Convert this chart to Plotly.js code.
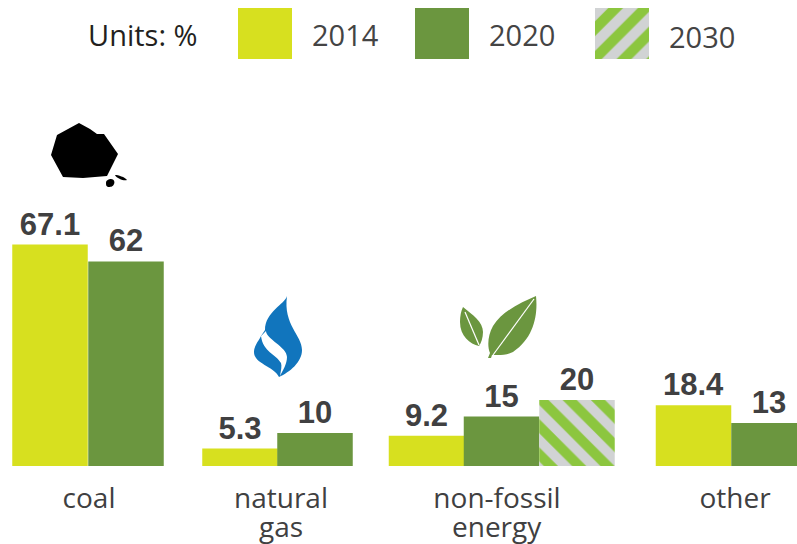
<!DOCTYPE html>
<html><head><meta charset="utf-8">
<script src="https://cdn.plot.ly/plotly-3.0.1.min.js"></script>
<style>html,body{margin:0;padding:0;background:#fff}</style></head>
<body><div id="chart" style="width:797px;height:544px"></div>
<script>
const categories = ['coal', 'natural', 'non-fossil', 'other'];
const categoriesLine2 = ['', 'gas', 'energy', ''];
const years = ['2014', '2020', '2030'];
const values2014 = [67.1, 5.3, 9.2, 18.4];
const values2020 = [62, 10, 15, 13];
const values2030 = [null, null, 20, null];
const colors = {y2014: '#d7e01f', y2020: '#6b963f', hatchFg: '#8cc63f', hatchBg: '#d1d3d4'};

// layout geometry (the x axis runs in page pixels)
const W = 797, H = 544, baseline = 466, pxPerUnit = 3.3, barW = 75.5;
const x2014 = [50, 240, 426.5, 693.5];
const x2020 = [126, 315, 501.5, 769];
const x2030 = [null, null, 577, null];
const labelX = [89, 281, 497, 735];
const swatchX = [265, 442, 622];

const labelFont = {family: 'Liberation Sans, Arial, sans-serif', size: 31, weight: 700, color: '#404041'};
const fmt = v => v == null ? '' : String(v);
const hatch = (s, size) => ({shape: s, bgcolor: colors.hatchBg, fgcolor: colors.hatchFg, size, solidity: 0.5});

const bar = (x, y, marker) => ({
  type: 'bar', x, y, width: barW, marker: Object.assign({line: {width: 0}}, marker),
  text: y.map(fmt), textposition: 'outside', textfont: labelFont, cliponaxis: false,
  showlegend: false, hoverinfo: 'skip', xaxis: 'x', yaxis: 'y'
});
const swatch = (i, marker) => ({
  type: 'bar', x: [swatchX[i]], y: [51], base: [8], width: 54,
  marker: Object.assign({line: {width: 0}}, marker),
  showlegend: false, hoverinfo: 'skip', xaxis: 'x', yaxis: 'y2'
});

const traces = [
  bar(x2014, values2014, {color: colors.y2014}),
  bar(x2020, values2020, {color: colors.y2020}),
  bar(x2030, values2030, {color: colors.hatchBg, pattern: hatch('\\', 20)}),
  swatch(0, {color: colors.y2014}),
  swatch(1, {color: colors.y2020}),
  swatch(2, {color: colors.hatchBg, pattern: hatch('/', 21)})
];

const icon = (path, fill) => ({type: 'path', xref: 'x', yref: 'y2', path, fillcolor: fill, line: {width: 0}, layer: 'above'});
const rib = (path, w) => ({type: 'path', xref: 'x', yref: 'y2', path, line: {color: '#fff', width: w}, layer: 'above'});
const shapes = [
  // coal
  icon('M79,123 L90,129 L97,134 L104,134 L118,154 L107,176 L83,178 L63,177 L51,155 L57,135 Z', '#000'),
  icon('M106,183 C106,180 109,179 111,179 C114,179 115,182 114,184 C113,187 110,187 108,187 C106,186 106,185 106,183 Z', '#000'),
  icon('M115,175 C118,175 125,177 127,180 C124,181 117,179 115,175 Z', '#000'),
  // flame
  icon('M287,296 C285,304 265,312 265,330 L261,336 C258,342 254,346 254,352 C254,364 274,366 279,377 C290,372 302,362 302,350 C302,335 283,325 287,296 Z', '#1175bd'),
  icon('M261,336 L266,331 C266,339 287,347 287,357 C287,364 283,370 280,376 C281,370 282,366 281,363 C276,354 263,352 261,336 Z', '#fff'),
  // small leaf
  icon('M463,307 C473,315 483,322 483,332 C483,338 481,343 479,346 C470,344 460,336 460,322 C460,316 461,311 463,307 Z', '#6b963f'),
  rib('M465,312 L479,345', 1.2),
  // large leaf
  icon('M536,296 C538,315 534,338 513,352 C505,356 497,355 492,355 L491,358 L488,358 L490,353 C487,346 488,335 493,326 C502,311 522,302 536,296 Z', '#6b963f'),
  rib('M534,299 L493,355', 1.2)
];

const note = (text, x, y, color) => ({
  text, x, y: (baseline - y) / baseline, xref: 'x', yref: 'paper', xanchor: 'left', yanchor: 'middle', showarrow: false,
  font: {family: 'Open Sans, sans-serif', size: 29, color}
});
const line2 = categoriesLine2.map((t, i) => t ? ({
  text: t, x: labelX[i], y: (baseline - 526) / baseline, xref: 'x', yref: 'paper', xanchor: 'center', yanchor: 'middle', showarrow: false,
  font: {family: 'Open Sans, sans-serif', size: 28, color: '#404041'}
}) : null).filter(Boolean);
const annotations = [
  note('Units: %', 86, 34, '#231f20'),
  note(years[0], 310, 35, '#444'),
  note(years[1], 487, 35, '#444'),
  note(years[2], 667, 36, '#444')
].concat(line2);

const layout = {
  width: W, height: H, margin: {l: 0, r: 0, t: 0, b: H - baseline, pad: 0},
  paper_bgcolor: '#fff', plot_bgcolor: '#fff', barmode: 'overlay', showlegend: false,
  xaxis: {range: [0, W], tickmode: 'array', tickvals: labelX, ticktext: categories,
    showgrid: false, zeroline: false, showline: false, ticks: 'outside', ticklen: 7, tickcolor: 'rgba(0,0,0,0)',
    tickfont: {family: 'Open Sans, sans-serif', size: 28, color: '#404041'}, tickangle: 0},
  yaxis: {range: [0, baseline / pxPerUnit], visible: false, fixedrange: true},
  yaxis2: {range: [baseline, 0], overlaying: 'y', visible: false, fixedrange: true},
  shapes, annotations
};
Plotly.newPlot('chart', traces, layout, {staticPlot: true, displayModeBar: false});
</script></body></html>
